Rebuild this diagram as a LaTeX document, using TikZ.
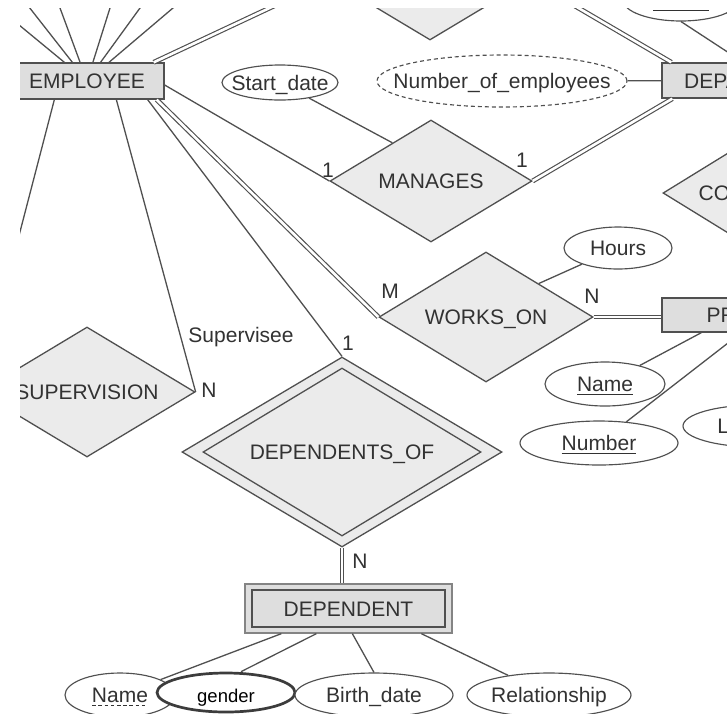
\documentclass[tikz,border=0pt]{standalone}
\usepackage{fontspec}
\setmainfont{Liberation Sans}
\usetikzlibrary{shapes.geometric,calc}

\definecolor{lnc}{HTML}{505050}
\definecolor{txt}{HTML}{323232}
\definecolor{entfill}{HTML}{DEDEDE}
\definecolor{relfill}{HTML}{EBEBEB}
\definecolor{gline}{HTML}{3C3C3C}

\newcommand\erfont{\fontsize{21}{25}\selectfont}
\newcommand\gfont{\fontsize{18.5}{22}\selectfont}
% zero-width text so that the shape keeps its given size
\newcommand\zw[1]{\makebox[0pt][c]{#1}}
% key attribute: solid underline
\newcommand\keyline[1]{\setbox0\hbox{#1}\rlap{\rule[-3pt]{\wd0}{1pt}}\box0}
% partial key: dashed underline
\newcommand\partkey[1]{\setbox0\hbox{#1}\rlap{\hbox to \wd0{\xleaders\hbox{\rule[-3.5pt]{3.5pt}{0.9pt}\hspace{2.5pt}}\hfill}}\box0}

\tikzset{
  ln/.style={draw=lnc, line width=1.3pt},
  dbl/.style={draw=lnc, line width=1.15pt, double=white, double distance=2.6pt},
  ent/.style={rectangle, draw=lnc, fill=entfill, line width=1.3pt, inner sep=0pt,
    text=txt, font=\erfont, text height=15pt, text depth=0pt},
  rel/.style={diamond, aspect=1.65, draw=lnc, fill=relfill, line width=1.3pt, inner sep=0pt,
    text=txt, font=\erfont, text height=15pt, text depth=0pt},
  attr/.style={ellipse, draw=lnc, fill=white, line width=1.15pt, inner sep=0pt,
    text=txt, font=\erfont, text height=15pt, text depth=0pt},
  lbl/.style={text=txt, font=\erfont, inner sep=0pt, anchor=base},
}

\begin{document}
\begin{tikzpicture}[x=1pt, y=-1pt]
\useasboundingbox (0,0) rectangle (727,713);
\fill[white] (0,0) rectangle (727,713);

\begin{scope}
\clip (20,8) rectangle (727,713);

% ---------- entities ----------
\node[ent, minimum width=154pt, minimum height=36pt] (emp) at (87,81) {EMPLOYEE};
\node[ent, minimum width=187pt, minimum height=35pt] (dept) at (755.5,80.5) {DEPARTMENT};
\node[ent, minimum width=187pt, minimum height=34pt] (proj) at (755.5,315) {PROJECT};
\node[ent, draw=lnc!70, minimum width=207pt, minimum height=49pt] (depo) at (348.5,608.5) {};
\node[ent, minimum width=193pt, minimum height=37pt] (dep) at (348.5,608.5) {DEPENDENT};

% ---------- relationships ----------
\node[rel, minimum width=200pt, minimum height=120pt] (wf) at (430,-20) {};
\node[rel, minimum width=202pt, minimum height=122pt] (man) at (431,181) {\zw{MANAGES}};
\node[rel, minimum width=188pt, minimum height=116pt] (ctl) at (757,193) {\zw{CONTROLS}};
\node[rel, minimum width=214pt, minimum height=130pt] (wo) at (486,317) {\zw{WORKS\_ON}};
\node[rel, minimum width=216pt, minimum height=130pt] (sup) at (87,392) {\zw{SUPERVISION}};
\node[rel, minimum width=320pt, minimum height=190pt] (dofo) at (342,452) {};
\node[rel, minimum width=278pt, minimum height=168pt] (dof) at (342,452) {\zw{DEPENDENTS\_OF}};

% ---------- attributes ----------
\node[attr, minimum width=116pt, minimum height=35pt] (sd) at (280,82.5) {\zw{Start\_date}};
\node[attr, dash pattern=on 4pt off 3pt, minimum width=250pt, minimum height=52pt] (noe) at (502,81) {\zw{Number\_of\_employees}};
\node[attr, minimum width=116pt, minimum height=42pt] (dname) at (681,0) {\zw{\keyline{Name}}};
\node[attr, minimum width=108pt, minimum height=42pt] (hours) at (618,248) {\zw{Hours}};
\node[attr, minimum width=120pt, minimum height=44pt] (pname) at (605,384) {\zw{\keyline{Name}}};
\node[attr, minimum width=158pt, minimum height=44pt] (pnum) at (599,443) {\zw{\keyline{Number}}};
\node[attr, minimum width=148pt, minimum height=42pt] (ploc) at (757,426) {\zw{Location}};
\node[attr, minimum width=110pt, minimum height=44pt] (dpname) at (120,695) {\zw{\partkey{Name}}};
\node[attr, draw=gline, line width=2.7pt, text=black, font=\gfont, text height=19pt,
      minimum width=138pt, minimum height=39pt] (gender) at (226,692.5) {\zw{gender}};
\node[attr, minimum width=158pt, minimum height=44pt] (birth) at (374,695) {\zw{Birth\_date}};
\node[attr, minimum width=164pt, minimum height=44pt] (relp) at (549,695) {\zw{Relationship}};

% ---------- free ends of EMPLOYEE attribute lines ----------
\coordinate (ea1) at (-27,-13);
\coordinate (ea2) at (0,-30);
\coordinate (ea3) at (46.5,-28.5);
\coordinate (ea4) at (121.5,-28.5);
\coordinate (ea5) at (166.5,-28.5);
\coordinate (ea6) at (216,-28.5);

% ---------- connectors ----------
\foreach \c in {ea1,ea2,ea3,ea4,ea5,ea6} \draw[ln] (\c) -- (emp);

\draw[dbl] ([xshift=-11pt]emp.north east) -- (wf.west);
\draw[dbl] (wf.east) -- ([xshift=10pt]dept.north west);
\draw[ln] ([yshift=-4pt]emp.east) -- (man.west);
\draw[dbl] (man.east) -- ([xshift=11pt]dept.south west);
\draw[ln] (sd) -- ($(man.north)!0.38!(man.west)$);
\draw[ln] (noe) -- (dept);
\draw[ln] (dname.south) -- ([xshift=82pt]dept.north west);

\draw[dbl] ([xshift=-8pt]emp.south east) -- (wo.west);
\draw[dbl] (wo.east) -- (wo.east -| proj.west);
\draw[ln] (hours) -- ($(wo.north)!0.49!(wo.east)$);
\draw[ln] (pname) -- ([xshift=40pt]proj.south west);
\draw[ln] (pnum) -- ([xshift=80pt]proj.south west);

\draw[ln] ([xshift=45pt]emp.south west) -- (sup.west);
\draw[ln] ([xshift=107pt]emp.south west) -- (sup.east);

\draw[ln] ([xshift=-17pt]emp.south east) -- (dofo.north);
\draw[dbl] (dofo.south) -- (dofo.south |- depo.north);

\draw[ln] ([xshift=37pt]depo.south west) -- (dpname);
\draw[ln] ([xshift=72pt]depo.south west) -- ([xshift=15pt]gender.north);
\draw[ln] ([xshift=108pt]depo.south west) -- (birth.north);
\draw[ln] ([xshift=177pt]depo.south west) -- (relp);

% ---------- cardinalities and role name ----------
\node[lbl] (c1) at (328,177) {1};
\node[lbl] (c2) at (522,167) {1};
\node[lbl] (c3) at (390,298) {M};
\node[lbl] (c4) at (592,303) {N};
\node[lbl] (role) at (241,342) {Supervisee};
\node[lbl] (c5) at (209,397) {N};
\node[lbl] (c6) at (348,350) {1};
\node[lbl] (c7) at (360,568) {N};
\end{scope}
\end{tikzpicture}
\end{document}
